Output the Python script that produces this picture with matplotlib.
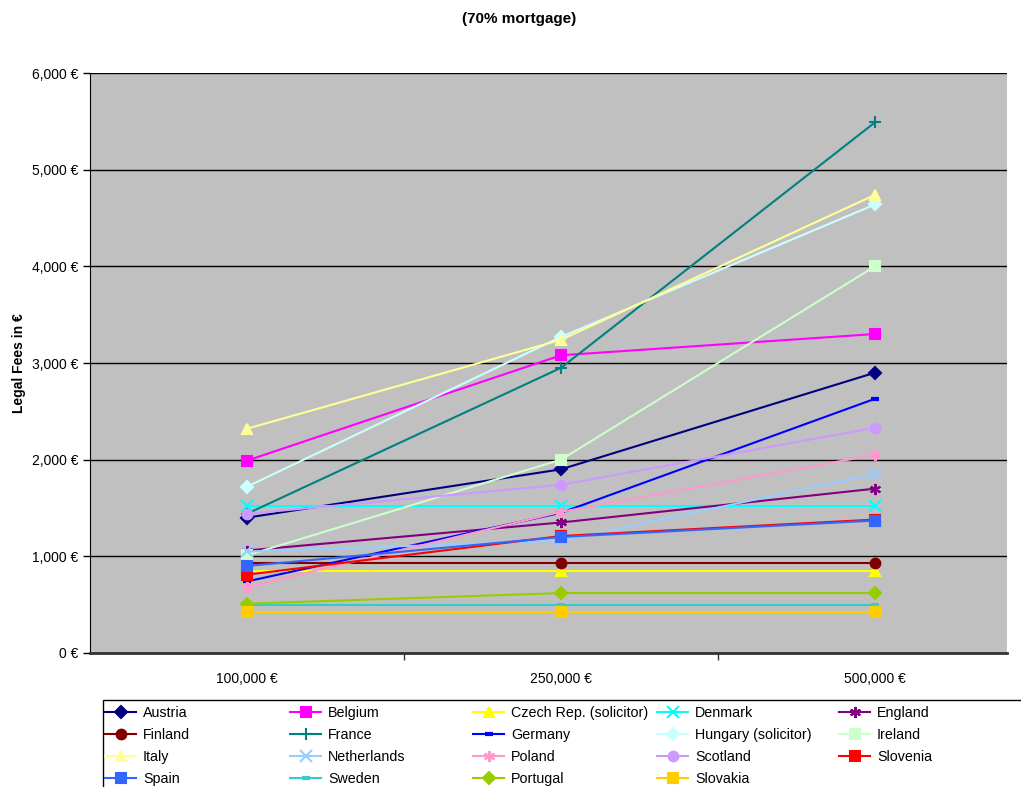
import matplotlib.pyplot as plt
from matplotlib.patches import Rectangle
from matplotlib.ticker import FuncFormatter

plt.rcParams['font.family'] = ['Liberation Sans', 'DejaVu Sans']

# Categorias (importe de la hipoteca)
categorias = ['100,000 €', '250,000 €', '500,000 €']

# Honorarios legales por pais
austria = [1400, 1900, 2900]
belgium = [1990, 3080, 3300]
czech = [850, 850, 850]
denmark = [1520, 1520, 1520]
england = [1060, 1350, 1700]
finland = [930, 930, 930]
france = [1440, 2950, 5490]
germany = [740, 1450, 2630]
hungary = [1720, 3270, 4640]
ireland = [1010, 2000, 4000]
italy = [2320, 3240, 4740]
netherlands = [1050, 1160, 1850]
poland = [680, 1460, 2050]
scotland = [1440, 1740, 2330]
slovenia = [810, 1210, 1380]
spain = [900, 1200, 1370]
sweden = [500, 500, 500]
portugal = [510, 620, 620]
slovakia = [420, 420, 420]

series = [
    ('Austria', austria, '#000080', 'D'),
    ('Belgium', belgium, '#FF00FF', 's'),
    ('Czech Rep. (solicitor)', czech, '#FFFF00', '^'),
    ('Denmark', denmark, '#00FFFF', 'x'),
    ('England', england, '#800080', (6, 2, 0)),
    ('Finland', finland, '#800000', 'o'),
    ('France', france, '#008080', '+'),
    ('Germany', germany, '#0000FF', '_'),
    ('Hungary (solicitor)', hungary, '#CCFFFF', 'D'),
    ('Ireland', ireland, '#CCFFCC', 's'),
    ('Italy', italy, '#FFFF99', '^'),
    ('Netherlands', netherlands, '#99CCFF', 'x'),
    ('Poland', poland, '#FF99CC', (6, 2, 0)),
    ('Scotland', scotland, '#CC99FF', 'o'),
    ('Slovenia', slovenia, '#FF0000', 's'),
    ('Spain', spain, '#3366FF', 's'),
    ('Sweden', sweden, '#33CCCC', '_'),
    ('Portugal', portugal, '#99CC00', 'D'),
    ('Slovakia', slovakia, '#FFCC00', 's'),
]

fig = plt.figure(figsize=(10.21, 7.87), dpi=100)
ax = fig.add_axes([0.0881, 0.1703, 0.8982, 0.7369])
ax.set_facecolor('#C0C0C0')

x = list(range(len(categorias)))
lineas = []
for nombre, valores, color, marcador in series:
    tam = 7
    mew = 1.5
    if marcador == 'D':
        tam = 6
    if marcador == '_':
        tam = 6
        mew = 3
    if marcador in ('x', '+', (6, 2, 0)):
        tam = 8
    l, = ax.plot(x, valores, color=color, marker=marcador, markersize=tam,
                 markeredgewidth=mew, linewidth=1.5, label=nombre)
    lineas.append(l)

ax.set_xlim(-0.5, -0.5 + 917 / 314)
ax.set_ylim(0, 6000)
ax.set_yticks(range(0, 6001, 1000))
ax.yaxis.set_major_formatter(FuncFormatter(lambda v, p: '{:,.0f} €'.format(v)))
ax.set_xticks(x)
ax.set_xticklabels(categorias)
ax.set_xticks([0.5, 1.5], minor=True)
ax.tick_params(axis='x', which='major', length=0, pad=14, labelsize=10)
ax.tick_params(axis='x', which='minor', length=5, width=1, color='#333333')
ax.tick_params(axis='y', length=5, width=1, labelsize=10)

ax.grid(axis='y', color='black', linewidth=1)
ax.set_axisbelow(True)
for lado in ('top', 'right'):
    ax.spines[lado].set_visible(False)
ax.spines['left'].set_color('black')
ax.spines['bottom'].set_color('#333333')
ax.spines['bottom'].set_linewidth(2)

ax.set_ylabel('Legal Fees in €', fontsize=10, fontweight='bold', labelpad=4)
fig.text(0.508, 0.976, '(70% mortgage)', ha='center', va='center',
         fontsize=11, fontweight='bold')

# marco de la leyenda
fig.patches.append(Rectangle((103 / 1021, -0.05), 1, 1 - 700 / 787 + 0.05,
                             transform=fig.transFigure, facecolor='white',
                             edgecolor='black', linewidth=1, zorder=0))

# una leyenda por columna, con columnas de igual ancho (como en Excel)
x_cols = [105, 290, 473, 657, 839]
for col in range(5):
    idx = list(range(col, len(lineas), 5))
    leg = fig.legend([lineas[i] for i in idx], [series[i][0] for i in idx],
                     loc='upper left', bbox_to_anchor=(x_cols[col] / 1021, 1 - 706 / 787),
                     fontsize=10.3, frameon=False, handlelength=2.2, borderaxespad=0,
                     borderpad=0, labelspacing=0.55, handletextpad=0.45)

fig.savefig('out.png', dpi=100)
